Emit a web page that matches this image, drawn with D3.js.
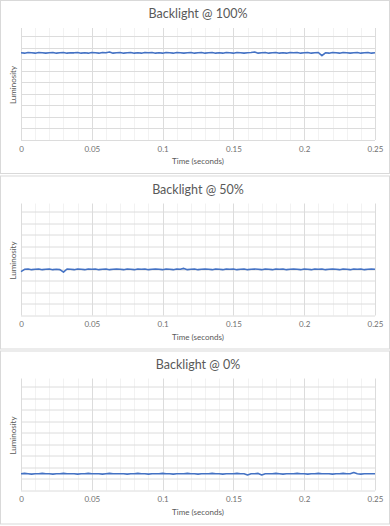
<!DOCTYPE html>
<html><head><meta charset="utf-8">
<script src="https://cdn.jsdelivr.net/npm/d3@7"></script>
<style>html,body{margin:0;padding:0;background:#fff;}svg{display:block;}</style>
</head><body>
<svg id="c" width="390" height="526"></svg>
<script>
const titles = ["Backlight @ 100%", "Backlight @ 50%", "Backlight @ 0%"];
const xTickLabels = [0, 0.05, 0.1, 0.15, 0.2, 0.25];
const xLabel = "Time (seconds)";
const yLabel = "Luminosity";
const times = [0,0.0025,0.005,0.0075,0.01,0.0125,0.015,0.0175,0.02,0.0225,
0.025,0.0275,0.03,0.0325,0.035,0.0375,0.04,0.0425,0.045,0.0475,
0.05,0.0525,0.055,0.0575,0.06,0.0625,0.065,0.0675,0.07,0.0725,
0.075,0.0775,0.08,0.0825,0.085,0.0875,0.09,0.0925,0.095,0.0975,
0.1,0.1025,0.105,0.1075,0.11,0.1125,0.115,0.1175,0.12,0.1225,
0.125,0.1275,0.13,0.1325,0.135,0.1375,0.14,0.1425,0.145,0.1475,
0.15,0.1525,0.155,0.1575,0.16,0.1625,0.165,0.1675,0.17,0.1725,
0.175,0.1775,0.18,0.1825,0.185,0.1875,0.19,0.1925,0.195,0.1975,
0.2,0.2025,0.205,0.2075,0.21,0.2125,0.215,0.2175,0.22,0.2225,
0.225,0.2275,0.23,0.2325,0.235,0.2375,0.24,0.2425,0.245,0.2475,
0.25];
const lum100 = [7.55,7.52,7.58,7.55,7.52,7.58,7.55,7.52,7.55,7.58,
7.52,7.55,7.58,7.52,7.55,7.55,7.58,7.52,7.55,7.52,
7.58,7.55,7.52,7.58,7.55,7.62,7.52,7.55,7.58,7.52,
7.55,7.58,7.52,7.55,7.52,7.58,7.55,7.58,7.52,7.55,
7.52,7.58,7.55,7.52,7.58,7.55,7.52,7.55,7.58,7.52,
7.55,7.58,7.52,7.55,7.58,7.52,7.55,7.52,7.58,7.55,
7.52,7.58,7.55,7.52,7.55,7.58,7.62,7.52,7.55,7.58,
7.52,7.55,7.58,7.52,7.55,7.52,7.58,7.55,7.58,7.52,
7.55,7.58,7.52,7.55,7.58,7.3,7.55,7.52,7.58,7.55,
7.52,7.58,7.55,7.52,7.55,7.58,7.52,7.55,7.58,7.52,
7.55];
const lum50 = [3.8,4.0,4.03,3.97,4.0,4.03,3.97,4.0,4.03,3.97,
4.0,3.97,3.75,4.03,4.0,3.97,4.03,4.0,3.97,4.03,
4.0,4.03,3.97,4.0,4.03,3.97,4.0,4.03,4.0,3.97,
4.03,4.0,3.97,4.03,4.0,4.03,3.97,4.0,4.03,4.0,
3.97,4.03,4.0,3.97,4.03,4.0,4.08,3.97,4.0,4.03,
3.97,4.0,4.03,4.0,3.97,4.03,4.0,3.97,4.03,4.0,
4.03,3.97,4.0,4.03,3.97,4.0,4.03,4.0,3.97,4.03,
4.0,3.97,4.03,4.0,4.03,3.97,4.0,4.03,4.0,3.97,
4.03,4.0,3.97,4.03,4.0,4.03,3.97,4.0,4.03,4.0,
3.97,4.03,4.0,3.97,4.03,4.0,4.03,3.97,4.0,4.03,
4.0];
const lum0 = [1.45,1.48,1.45,1.42,1.45,1.45,1.48,1.45,1.45,1.42,
1.45,1.45,1.48,1.45,1.45,1.45,1.42,1.45,1.45,1.48,
1.45,1.45,1.45,1.42,1.45,1.48,1.45,1.45,1.45,1.45,
1.42,1.45,1.45,1.48,1.45,1.45,1.42,1.45,1.45,1.45,
1.48,1.45,1.45,1.42,1.45,1.45,1.45,1.48,1.45,1.45,
1.42,1.45,1.45,1.45,1.48,1.45,1.45,1.42,1.45,1.45,
1.45,1.48,1.45,1.45,1.35,1.45,1.45,1.48,1.35,1.45,
1.45,1.45,1.48,1.45,1.42,1.45,1.45,1.45,1.48,1.45,
1.45,1.42,1.45,1.45,1.48,1.45,1.45,1.45,1.42,1.45,
1.45,1.48,1.45,1.45,1.55,1.45,1.42,1.45,1.45,1.45,
1.45];
const series = [lum100, lum50, lum0];
const yGridValues = [0,1,2,3,4,5,6,7,8,9];
const xMajor = [0,0.05,0.1,0.15,0.2,0.25];
const xMinor = [0.01,0.02,0.03,0.04,0.06,0.07,0.08,0.09,0.11,0.12,0.13,0.14,0.16,0.17,0.18,0.19,0.21,0.22,0.23,0.24];

const svg = d3.select("#c");
const font = "Lato, 'Open Sans', sans-serif";
const panelTops = [0, 175.5, 350.5];
const panelH = 174;

panelTops.forEach((top, i) => {
  const g = svg.append("g").attr("transform", `translate(0,${top})`);
  g.append("rect").attr("x", 0.5).attr("y", 0.5).attr("width", 389).attr("height", panelH - 1)
    .attr("fill", "#fff").attr("stroke", "#d9d9d9");
  const x = d3.scaleLinear().domain([0, 0.25]).range([21, 375]);
  const y = d3.scaleLinear().domain([0, 9.7]).range([140, 28]);

  g.append("g").selectAll("line").data(xMinor).join("line")
    .attr("x1", d => Math.round(x(d)) + 0.5).attr("x2", d => Math.round(x(d)) + 0.5)
    .attr("y1", y(9.7)).attr("y2", y(0)).attr("stroke", "#f2f2f2");
  g.append("g").selectAll("line").data(yGridValues).join("line")
    .attr("x1", x(0)).attr("x2", x(0.25))
    .attr("y1", d => Math.round(y(d)) + 0.5).attr("y2", d => Math.round(y(d)) + 0.5)
    .attr("stroke", "#dcdcdc");
  g.append("g").selectAll("line").data(xMajor).join("line")
    .attr("x1", d => Math.round(x(d)) + 0.5).attr("x2", d => Math.round(x(d)) + 0.5)
    .attr("y1", y(9.7)).attr("y2", y(0)).attr("stroke", "#dcdcdc");

  const axis = d3.axisBottom(x).tickValues(xTickLabels).tickSize(0).tickPadding(6)
    .tickFormat(d => String(d));
  const ax = g.append("g").attr("transform", `translate(0,${y(0)})`).call(axis);
  ax.select(".domain").remove();
  ax.selectAll("text").attr("fill", "#707070").attr("font-size", 8).attr("font-family", font);

  const line = d3.line().x((d, j) => x(times[j])).y(d => y(d));
  g.append("path").datum(series[i]).attr("d", line).attr("fill", "none")
    .attr("stroke", "#4472C4").attr("stroke-width", 1.6).attr("stroke-linejoin", "round");

  g.append("text").attr("x", 198).attr("y", 18).attr("text-anchor", "middle")
    .attr("font-family", font).attr("font-size", 12.5).attr("fill", "#595959").text(titles[i]);
  g.append("text").attr("x", 198).attr("y", 164).attr("text-anchor", "middle")
    .attr("font-family", font).attr("font-size", 8).attr("fill", "#595959").text(xLabel);
  g.append("text").attr("transform", `translate(16,85) rotate(-90)`).attr("text-anchor", "middle")
    .attr("font-family", font).attr("font-size", 8).attr("fill", "#595959").text(yLabel);
});
</script>
</body></html>
